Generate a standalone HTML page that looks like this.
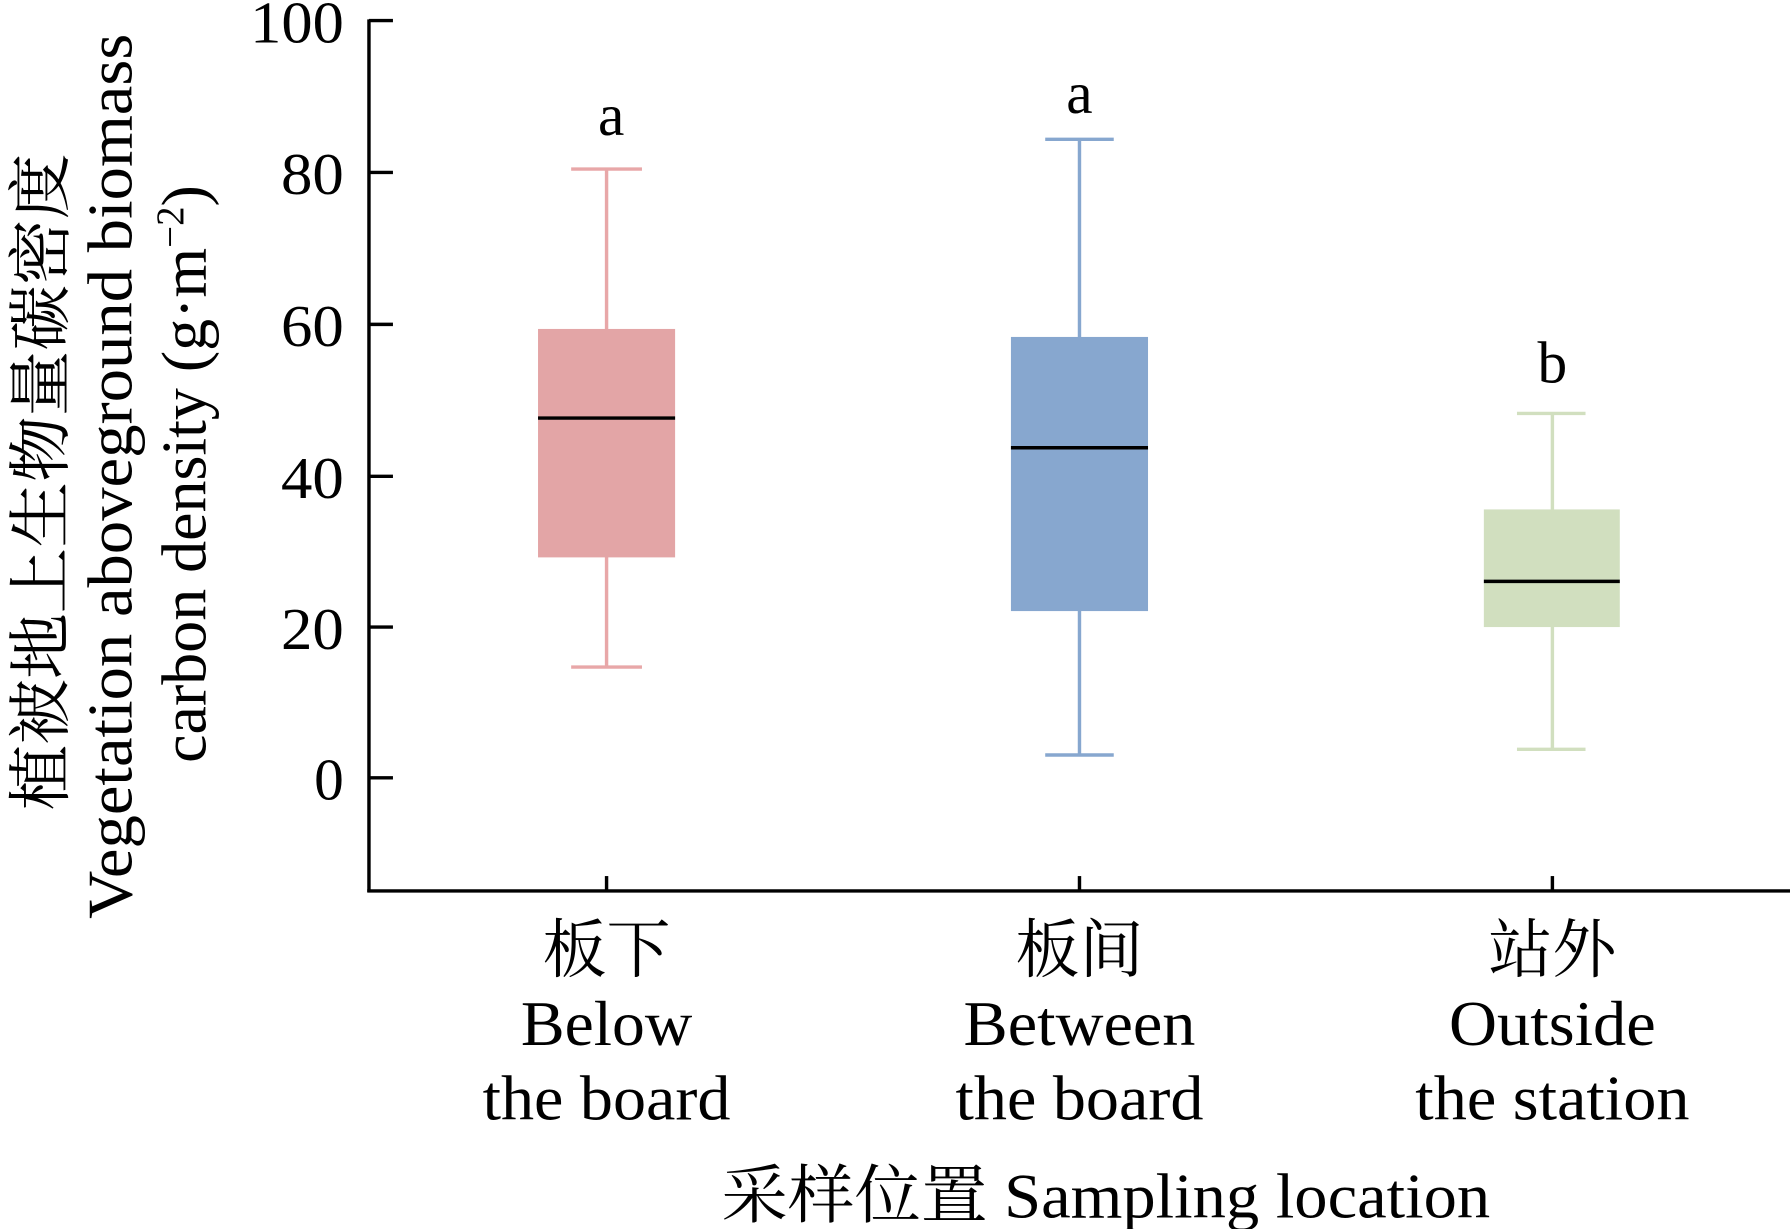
<!DOCTYPE html>
<html><head><meta charset="utf-8"><style>
html,body{margin:0;padding:0;background:#fff;}
svg{display:block;}
text{font-family:"Liberation Serif","Noto Serif CJK SC",serif;fill:#000;}
</style></head><body>
<svg width="1790" height="1229" viewBox="0 0 1567 1076" preserveAspectRatio="none" xmlns="http://www.w3.org/2000/svg">
<g stroke="#000" stroke-width="3" fill="none">
<line x1="323" y1="17" x2="323" y2="781"/>
<line x1="321.5" y1="780" x2="1567" y2="780"/>
<line x1="323" y1="18" x2="344" y2="18"/>
<line x1="323" y1="151" x2="344" y2="151"/>
<line x1="323" y1="284" x2="344" y2="284"/>
<line x1="323" y1="417" x2="344" y2="417"/>
<line x1="323" y1="549" x2="344" y2="549"/>
<line x1="323" y1="681" x2="344" y2="681"/>
<line x1="531" y1="780" x2="531" y2="767"/>
<line x1="945" y1="780" x2="945" y2="767"/>
<line x1="1359" y1="780" x2="1359" y2="767"/>
</g>
<g font-size="52" text-anchor="end">
<text x="301" y="37" textLength="82" lengthAdjust="spacingAndGlyphs">100</text>
<text x="301" y="170" textLength="55" lengthAdjust="spacingAndGlyphs">80</text>
<text x="301" y="303" textLength="55" lengthAdjust="spacingAndGlyphs">60</text>
<text x="301" y="436" textLength="55" lengthAdjust="spacingAndGlyphs">40</text>
<text x="301" y="568" textLength="55" lengthAdjust="spacingAndGlyphs">20</text>
<text x="301" y="700">0</text>
</g>
<g stroke="#e8a7a8" stroke-width="3">
<line x1="531" y1="148" x2="531" y2="584"/>
<line x1="500" y1="148" x2="562" y2="148"/>
<line x1="500" y1="584" x2="562" y2="584"/>
</g>
<rect x="471" y="288" width="120" height="200" fill="#e3a5a6"/>
<line x1="471" y1="366" x2="591" y2="366" stroke="#000" stroke-width="3"/>
<g stroke="#87a7cf" stroke-width="3">
<line x1="945" y1="122" x2="945" y2="661"/>
<line x1="915" y1="122" x2="975" y2="122"/>
<line x1="915" y1="661" x2="975" y2="661"/>
</g>
<rect x="885" y="295" width="120" height="240" fill="#87a7cf"/>
<line x1="885" y1="392" x2="1005" y2="392" stroke="#000" stroke-width="3"/>
<g stroke="#d1dfbf" stroke-width="3">
<line x1="1359" y1="362" x2="1359" y2="656"/>
<line x1="1328" y1="362" x2="1388" y2="362"/>
<line x1="1328" y1="656" x2="1388" y2="656"/>
</g>
<rect x="1299" y="446" width="119" height="103" fill="#d1dfbf"/>
<line x1="1299" y1="509" x2="1418" y2="509" stroke="#000" stroke-width="3"/>
<g font-size="52" text-anchor="middle">
<text x="535" y="118">a</text>
<text x="945" y="99">a</text>
<text x="1359" y="335">b</text>
</g>
<g font-size="56" text-anchor="middle">
<text x="531" y="851">板下</text>
<text x="531" y="915" textLength="150" lengthAdjust="spacingAndGlyphs">Below</text>
<text x="531" y="980" textLength="217" lengthAdjust="spacingAndGlyphs">the board</text>
<text x="945" y="851">板间</text>
<text x="945" y="915" textLength="203" lengthAdjust="spacingAndGlyphs">Between</text>
<text x="945" y="980" textLength="217" lengthAdjust="spacingAndGlyphs">the board</text>
<text x="1359" y="851">站外</text>
<text x="1359" y="915" textLength="181" lengthAdjust="spacingAndGlyphs">Outside</text>
<text x="1359" y="980" textLength="240" lengthAdjust="spacingAndGlyphs">the station</text>
<text x="968" y="1066" textLength="673" lengthAdjust="spacingAndGlyphs">采样位置 Sampling location</text>
</g>
<g font-size="56" text-anchor="middle">
<text transform="translate(55,422) rotate(-90)" textLength="575" lengthAdjust="spacingAndGlyphs">植被地上生物量碳密度</text>
<text transform="translate(115,417) rotate(-90)" textLength="775" lengthAdjust="spacingAndGlyphs">Vegetation aboveground biomass</text>
<text transform="translate(180,415) rotate(-90)">carbon density (g·m<tspan dy="-20" font-size="34">−2</tspan><tspan dy="20">)</tspan></text>
</g>
</svg>
</body></html>
